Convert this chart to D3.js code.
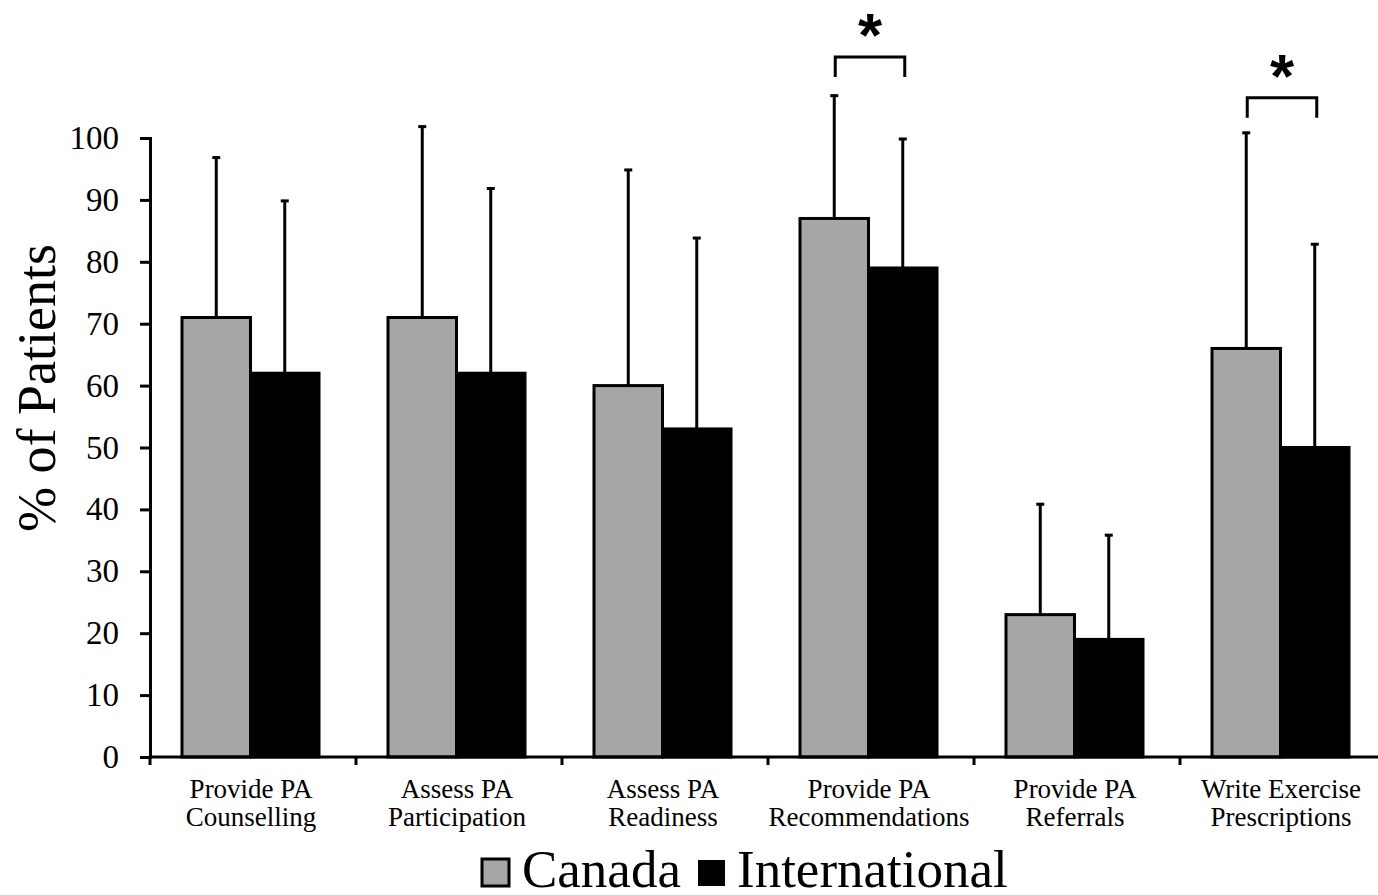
<!DOCTYPE html>
<html>
<head>
<meta charset="utf-8">
<script src="https://cdn.jsdelivr.net/npm/d3@7"></script>
<style>
  html, body { margin: 0; padding: 0; background: #fff; }
  svg { display: block; }
  text { font-family: "Liberation Serif", "Times New Roman", serif; fill: #000; }
</style>
</head>
<body>
<svg id="chart" width="1378" height="895"></svg>
<script>
const categories = [
  ["Provide PA", "Counselling"],
  ["Assess PA", "Participation"],
  ["Assess PA", "Readiness"],
  ["Provide PA", "Recommendations"],
  ["Provide PA", "Referrals"],
  ["Write Exercise", "Prescriptions"]
];
const seriesNames = ["Canada", "International"];
const canadaValues = [71, 71, 60, 87, 23, 66];
const internationalValues = [62, 62, 53, 79, 19, 50];
const canadaErrorTops = [97, 102, 95, 107, 41, 101];
const internationalErrorTops = [90, 92, 84, 100, 36, 83];
const yTicks = [0, 10, 20, 30, 40, 50, 60, 70, 80, 90, 100];
const significantCategories = [3, 5];
const significanceLevels = [113.1, 106.5];
const seriesColors = ["#a6a6a6", "#000000"];

const svg = d3.select("#chart");
const catKeys = categories.map((c, i) => i);

const x = d3.scaleBand().domain(catKeys).range([150, 1386]).padding(0);
const xInner = d3.scaleBand().domain(seriesNames).range([32, 169]).padding(0);
const y = d3.scaleLinear().domain([0, 100]).range([757, 138]);

const data = catKeys.map(i => ({
  i,
  vals: [
    { s: "Canada", v: canadaValues[i], e: canadaErrorTops[i], c: seriesColors[0] },
    { s: "International", v: internationalValues[i], e: internationalErrorTops[i], c: seriesColors[1] }
  ]
}));

// bars
const groups = svg.append("g").selectAll("g").data(data).join("g")
  .attr("transform", d => `translate(${x(d.i)},0)`);

groups.selectAll("rect").data(d => d.vals).join("rect")
  .attr("x", d => xInner(d.s))
  .attr("y", d => y(d.v))
  .attr("width", xInner.bandwidth())
  .attr("height", d => y(0) - y(d.v))
  .attr("fill", d => d.c)
  .attr("stroke", "#000")
  .attr("stroke-width", 3);

// error bars
groups.selectAll("line.err").data(d => d.vals).join("line")
  .attr("class", "err")
  .attr("x1", d => xInner(d.s) + xInner.bandwidth() / 2)
  .attr("x2", d => xInner(d.s) + xInner.bandwidth() / 2)
  .attr("y1", d => y(d.v))
  .attr("y2", d => y(d.e))
  .attr("stroke", "#000")
  .attr("stroke-width", 3);

groups.selectAll("line.cap").data(d => d.vals).join("line")
  .attr("class", "cap")
  .attr("x1", d => xInner(d.s) + xInner.bandwidth() / 2 - 4)
  .attr("x2", d => xInner(d.s) + xInner.bandwidth() / 2 + 4)
  .attr("y1", d => y(d.e) + 1)
  .attr("y2", d => y(d.e) + 1)
  .attr("stroke", "#000")
  .attr("stroke-width", 3);

// Y axis
const yAxis = d3.axisLeft(y).tickValues(yTicks).tickSize(10).tickPadding(21);
const gy = svg.append("g").attr("transform", "translate(150,0)").call(yAxis);
gy.select(".domain").attr("stroke", "#000").attr("stroke-width", 3);
gy.selectAll(".tick line").attr("stroke", "#000").attr("stroke-width", 3);
gy.selectAll(".tick text").style("font-family", "'Liberation Serif', serif").style("font-size", "33px").attr("fill", "#000");

// X axis
const gx = svg.append("g").attr("transform", `translate(0,${y(0)})`);
gx.append("line").attr("x1", 150).attr("x2", 1386).attr("y1", 0).attr("y2", 0)
  .attr("stroke", "#000").attr("stroke-width", 3);
gx.selectAll("line.xt").data(catKeys).join("line").attr("class", "xt")
  .attr("x1", d => x(d)).attr("x2", d => x(d)).attr("y1", 0).attr("y2", 8)
  .attr("stroke", "#000").attr("stroke-width", 3);
const xl = gx.selectAll("text.xl").data(data).join("text").attr("class", "xl")
  .attr("text-anchor", "middle")
  .style("font-size", "27px");
xl.append("tspan").attr("x", d => x(d.i) + x.bandwidth() / 2 - 2).attr("y", 41).text(d => categories[d.i][0]);
xl.append("tspan").attr("x", d => x(d.i) + x.bandwidth() / 2 - 2).attr("y", 69).text(d => categories[d.i][1]);

// Y label
svg.append("text")
  .attr("transform", "translate(55,388) rotate(-90)")
  .attr("text-anchor", "middle")
  .style("font-size", "54px")
  .text("% of Patients");

// significance brackets
significantCategories.forEach((i, k) => {
  const x1 = x(i) + xInner("Canada") + xInner.bandwidth() / 2 + 1;
  const x2 = x(i) + xInner("International") + xInner.bandwidth() / 2 + 2;
  const top = y(significanceLevels[k]);
  svg.append("path")
    .attr("d", `M${x1},${top + 20}V${top}H${x2}V${top + 20}`)
    .attr("fill", "none").attr("stroke", "#000").attr("stroke-width", 3);
  svg.append("text")
    .attr("x", (x1 + x2) / 2).attr("y", top - 1)
    .attr("text-anchor", "middle")
    .style("font-family", "'Liberation Sans', Arial, sans-serif")
    .style("font-weight", "bold")
    .style("font-size", "62px")
    .text("*");
});

// legend
const legend = svg.append("g");
legend.append("rect").attr("x", 482).attr("y", 859).attr("width", 27).attr("height", 27)
  .attr("fill", seriesColors[0]).attr("stroke", "#000").attr("stroke-width", 3);
legend.append("text").attr("x", 522).attr("y", 887).style("font-size", "53px").text(seriesNames[0]);
legend.append("rect").attr("x", 698).attr("y", 860).attr("width", 27).attr("height", 26)
  .attr("fill", seriesColors[1]);
legend.append("text").attr("x", 737).attr("y", 887).style("font-size", "53px").text(seriesNames[1]);
</script>
</body>
</html>
